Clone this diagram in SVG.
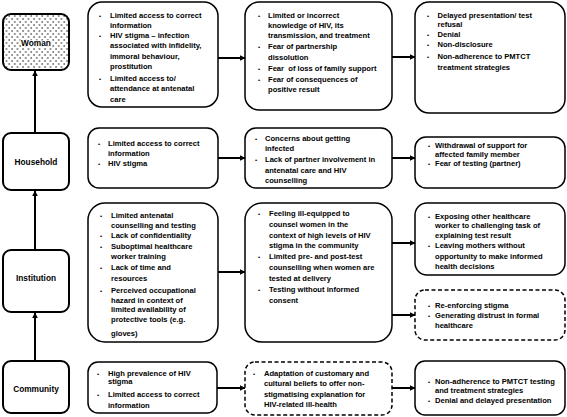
<svg xmlns="http://www.w3.org/2000/svg" width="567" height="417" viewBox="0 0 567 417">
<defs>
<pattern id="dots" width="5.5" height="6" patternUnits="userSpaceOnUse">
<rect width="5.5" height="6" fill="#fff"/>
<circle cx="1" cy="1" r="0.7" fill="#000"/>
<circle cx="3.75" cy="4" r="0.7" fill="#000"/>
</pattern>
<marker id="ah" viewBox="0 0 10 10" refX="9" refY="5" markerWidth="3" markerHeight="3" orient="auto" markerUnits="strokeWidth">
<path d="M0,0 L10,5 L0,10 z" fill="#000"/>
</marker>
</defs>
<style>
.lvl{fill:#fff;stroke:#000;stroke-width:2}
.box{fill:#fff;stroke:#000;stroke-width:1.5}
.dash{fill:#fff;stroke:#000;stroke-width:1.5;stroke-dasharray:4 2.5}
.lab{font-family:"Liberation Sans",Arial,sans-serif;font-weight:bold;font-size:8.3px;text-anchor:middle;fill:#000}
.halo{stroke:#fff;stroke-width:1.6px;paint-order:stroke;stroke-linejoin:round}
.t{font-family:"Liberation Sans",Arial,sans-serif;font-weight:bold;font-size:7.6px;fill:#000}
.b{font-family:"Liberation Sans",Arial,sans-serif;font-weight:bold;font-size:6px;fill:#000}
.c{stroke:#000;stroke-width:2;fill:none;marker-end:url(#ah)}
</style>
<rect width="567" height="417" fill="#fff"/>

<g id="connectors">
<line class="c" x1="35" y1="133" x2="35" y2="71"/>
<line class="c" x1="35" y1="250" x2="35" y2="191"/>
<line class="c" x1="35" y1="361" x2="35" y2="313"/>
<line class="c" x1="218" y1="58" x2="245" y2="58"/>
<line class="c" x1="218" y1="158" x2="245" y2="158"/>
<line class="c" x1="218" y1="272" x2="245" y2="272"/>
<line class="c" x1="217" y1="388" x2="245" y2="388"/>
<line class="c" x1="392" y1="57" x2="415" y2="57"/>
<line class="c" x1="392" y1="158" x2="415" y2="158"/>
<line class="c" x1="392" y1="243" x2="415" y2="243"/>
<line class="c" x1="392" y1="315" x2="415" y2="315"/>
<line class="c" x1="392" y1="388" x2="415" y2="388"/>
</g>

<g id="woman">
<rect x="3" y="14" width="66" height="56" rx="8" fill="url(#dots)" stroke="#000" stroke-width="2"/>
<text class="lab halo" x="36" y="45.5">Woman</text>
</g>
<g id="household">
<rect class="lvl" x="3" y="133" width="66" height="57" rx="8"/>
<text class="lab" x="36" y="164.5">Household</text>
</g>
<g id="institution">
<rect class="lvl" x="3" y="250" width="66" height="62" rx="8"/>
<text class="lab" x="36" y="281">Institution</text>
</g>
<g id="community">
<rect class="lvl" x="3" y="361" width="66" height="52" rx="8"/>
<text class="lab" x="36" y="392">Community</text>
</g>

<g id="woman-factors">
<rect class="box" x="88" y="2" width="130" height="105" rx="14"/>
<text class="b" x="99" y="17.5">•</text>
<text class="t" x="110" y="17.7">Limited access to correct</text>
<text class="t" x="110" y="27.5">information</text>
<text class="b" x="99" y="37.5">•</text>
<text class="t" x="110" y="37.7">HIV stigma – infection</text>
<text class="t" x="110" y="48.2">associated with infidelity,</text>
<text class="t" x="110" y="58.7">immoral behaviour,</text>
<text class="t" x="110" y="69.2">prostitution</text>
<text class="b" x="99" y="80.5">•</text>
<text class="t" x="110" y="80.7">Limited access to/</text>
<text class="t" x="110" y="91.2">attendance at antenatal</text>
<text class="t" x="110" y="101.5">care</text>
</g>
<g id="woman-perceptions">
<rect class="box" x="245" y="2" width="147" height="108" rx="14"/>
<text class="b" x="258" y="17.5">•</text>
<text class="t" x="268" y="17.7">Limited or incorrect</text>
<text class="t" x="268" y="27.7">knowledge of HIV, its</text>
<text class="t" x="268" y="37.7">transmission, and treatment</text>
<text class="b" x="258" y="49.3">•</text>
<text class="t" x="268" y="49.4">Fear of partnership</text>
<text class="t" x="268" y="60">dissolution</text>
<text class="b" x="258" y="71">•</text>
<text class="t" x="268" y="71" xml:space="preserve">Fear  of loss of family support</text>
<text class="b" x="258" y="81.7">•</text>
<text class="t" x="268" y="81.7">Fear of consequences of</text>
<text class="t" x="268" y="92">positive result</text>
</g>
<g id="woman-outcomes">
<rect class="box" x="415" y="2" width="150" height="111" rx="14"/>
<text class="b" x="427" y="17.5">•</text>
<text class="t" x="437.5" y="17.7">Delayed presentation/ test</text>
<text class="t" x="437.5" y="27">refusal</text>
<text class="b" x="427" y="36.5">•</text>
<text class="t" x="437.5" y="36.7">Denial</text>
<text class="b" x="427" y="46.5">•</text>
<text class="t" x="437.5" y="46.7">Non-disclosure</text>
<text class="b" x="427" y="59">•</text>
<text class="t" x="437.5" y="59.2">Non-adherence to PMTCT</text>
<text class="t" x="437.5" y="69.5">treatment strategies</text>
</g>

<g id="household-factors">
<rect class="box" x="88" y="128" width="130" height="60" rx="11"/>
<text class="b" x="98" y="145.8">•</text>
<text class="t" x="108" y="146">Limited access to correct</text>
<text class="t" x="108" y="156">information</text>
<text class="b" x="98" y="166">•</text>
<text class="t" x="108" y="166">HIV stigma</text>
</g>
<g id="household-perceptions">
<rect class="box" x="245" y="128" width="147" height="60" rx="11"/>
<text class="b" x="255" y="141">•</text>
<text class="t" x="265" y="141">Concerns about getting</text>
<text class="t" x="265" y="151">infected</text>
<text class="b" x="255" y="162">•</text>
<text class="t" x="265" y="162">Lack of partner involvement in</text>
<text class="t" x="265" y="172.5">antenatal care and HIV</text>
<text class="t" x="265" y="182.8">counselling</text>
</g>
<g id="household-outcomes">
<rect class="box" x="415" y="137" width="150" height="51" rx="11"/>
<text class="b" x="428" y="147.5">•</text>
<text class="t" x="435" y="147.7">Withdrawal of support for</text>
<text class="t" x="435" y="156.7">affected family member</text>
<text class="b" x="428" y="166">•</text>
<text class="t" x="435" y="166">Fear of testing (partner)</text>
</g>

<g id="institution-factors">
<rect class="box" x="88" y="203" width="130" height="139" rx="17"/>
<text class="b" x="100" y="217.5">•</text>
<text class="t" x="111" y="217.7">Limited antenatal</text>
<text class="t" x="111" y="228">counselling and testing</text>
<text class="b" x="100" y="238">•</text>
<text class="t" x="111" y="238">Lack of confidentiality</text>
<text class="b" x="100" y="249">•</text>
<text class="t" x="111" y="249">Suboptimal healthcare</text>
<text class="t" x="111" y="259">worker training</text>
<text class="b" x="100" y="270.3">•</text>
<text class="t" x="111" y="270.3">Lack of time and</text>
<text class="t" x="111" y="281">resources</text>
<text class="b" x="100" y="292.5">•</text>
<text class="t" x="111" y="292.5">Perceived occupational</text>
<text class="t" x="111" y="302.7">hazard in context of</text>
<text class="t" x="111" y="312.2">limited availability of</text>
<text class="t" x="111" y="322">protective tools (e.g.</text>
<text class="t" x="111" y="335.5">gloves)</text>
</g>
<g id="institution-perceptions">
<rect class="box" x="245" y="203" width="147" height="139" rx="17"/>
<text class="b" x="258" y="215.8">•</text>
<text class="t" x="269" y="216">Feeling ill-equipped to</text>
<text class="t" x="269" y="226.6">counsel women in the</text>
<text class="t" x="269" y="237.6">context of high levels of HIV</text>
<text class="t" x="269" y="247.6">stigma in the community</text>
<text class="b" x="258" y="258.6">•</text>
<text class="t" x="269" y="258.6">Limited pre- and post-test</text>
<text class="t" x="269" y="270.3">counselling when women are</text>
<text class="t" x="269" y="281">tested at delivery</text>
<text class="b" x="258" y="292">•</text>
<text class="t" x="269" y="292">Testing without informed</text>
<text class="t" x="269" y="302.6">consent</text>
</g>
<g id="institution-outcomes">
<rect class="box" x="415" y="203" width="150" height="72" rx="12"/>
<text class="b" x="428" y="219.2">•</text>
<text class="t" x="435" y="219.3">Exposing other healthcare</text>
<text class="t" x="435" y="227.7">worker to challenging task of</text>
<text class="t" x="435" y="237.7">explaining test result</text>
<text class="b" x="428" y="247.6">•</text>
<text class="t" x="435" y="247.7">Leaving mothers without</text>
<text class="t" x="435" y="258.6">opportunity to make informed</text>
<text class="t" x="435" y="269.3">health decisions</text>
</g>
<g id="institution-consequences">
<rect class="dash" x="415" y="290" width="150" height="50" rx="10"/>
<text class="b" x="428" y="307.5">•</text>
<text class="t" x="435" y="307.7">Re-enforcing stigma</text>
<text class="b" x="428" y="317.5">•</text>
<text class="t" x="435" y="317.7">Generating distrust in formal</text>
<text class="t" x="435" y="328">healthcare</text>
</g>

<g id="community-factors">
<rect class="box" x="88" y="362" width="129" height="51" rx="10"/>
<text class="b" x="97" y="375.8">•</text>
<text class="t" x="108" y="376">High prevalence of HIV</text>
<text class="t" x="108" y="384">stigma</text>
<text class="b" x="97" y="396.5">•</text>
<text class="t" x="108" y="396.7">Limited access to correct</text>
<text class="t" x="108" y="407.5">information</text>
</g>
<g id="community-perceptions">
<rect class="dash" x="245" y="362" width="147" height="53" rx="10"/>
<text class="b" x="253" y="375.8">•</text>
<text class="t" x="264" y="376">Adaptation of customary and</text>
<text class="t" x="264" y="386">cultural beliefs to offer non-</text>
<text class="t" x="264" y="396.7">stigmatising explanation for</text>
<text class="t" x="264" y="406.7">HIV-related ill-health</text>
</g>
<g id="community-outcomes">
<rect class="box" x="415" y="361" width="150" height="54" rx="10"/>
<text class="b" x="428" y="384.2">•</text>
<text class="t" x="435" y="384.3">Non-adherence to PMTCT testing</text>
<text class="t" x="435" y="392.7">and treatment strategies</text>
<text class="b" x="428" y="402.6">•</text>
<text class="t" x="435" y="402.7">Denial and delayed presentation</text>
</g>
</svg>
